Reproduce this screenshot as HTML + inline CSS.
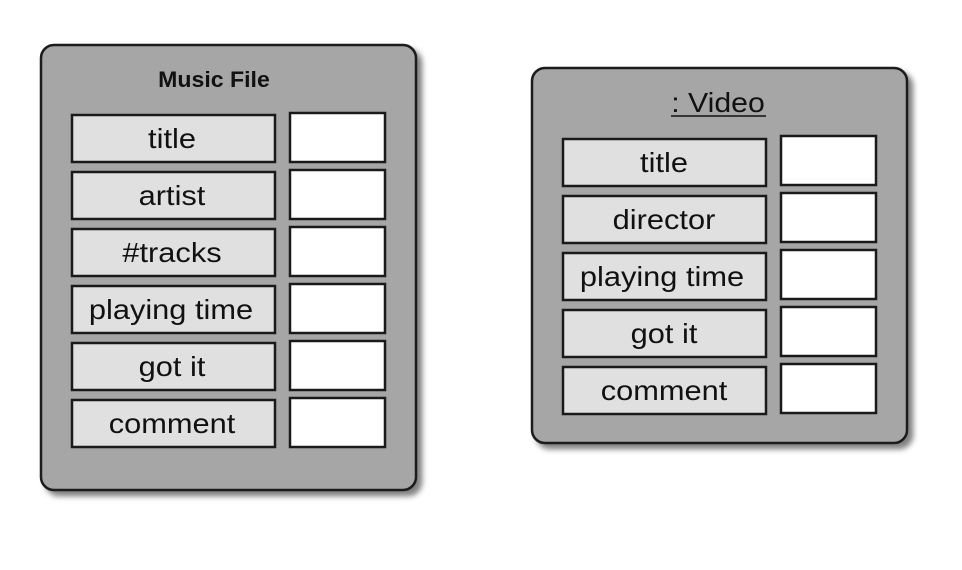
<!DOCTYPE html>
<html><head><meta charset="utf-8"><style>
html,body{margin:0;padding:0;background:#fff;}
svg{display:block;}
text{font-family:"Liberation Sans",Arial,sans-serif;fill:#111;}
</style></head><body>
<svg width="962" height="570" viewBox="0 0 962 570" xmlns="http://www.w3.org/2000/svg">
<defs>
<filter id="sh" x="-10%" y="-10%" width="130%" height="130%">
<feGaussianBlur in="SourceAlpha" stdDeviation="3"/>
<feOffset dx="5" dy="5" result="b"/>
<feComponentTransfer><feFuncA type="linear" slope="0.5"/></feComponentTransfer>
<feMerge><feMergeNode/><feMergeNode in="SourceGraphic"/></feMerge>
</filter>
</defs>
<g stroke="#1a1a1a" stroke-width="2.5">
<rect x="41" y="45" width="375" height="445" rx="13" fill="#a6a6a6" filter="url(#sh)"/>
<rect x="532" y="68" width="375" height="375" rx="13" fill="#a6a6a6" filter="url(#sh)"/>
</g>
<g stroke="#1a1a1a" stroke-width="2.5">
<rect x="72" y="115" width="203" height="47" fill="#e0e0e0"/><rect x="290" y="113" width="95" height="49" fill="#fff"/>
<rect x="72" y="172" width="203" height="47" fill="#e0e0e0"/><rect x="290" y="170" width="95" height="49" fill="#fff"/>
<rect x="72" y="229" width="203" height="47" fill="#e0e0e0"/><rect x="290" y="227" width="95" height="49" fill="#fff"/>
<rect x="72" y="286" width="203" height="47" fill="#e0e0e0"/><rect x="290" y="284" width="95" height="49" fill="#fff"/>
<rect x="72" y="343" width="203" height="47" fill="#e0e0e0"/><rect x="290" y="341" width="95" height="49" fill="#fff"/>
<rect x="72" y="400" width="203" height="47" fill="#e0e0e0"/><rect x="290" y="398" width="95" height="49" fill="#fff"/>

<rect x="563" y="139" width="203" height="47" fill="#e0e0e0"/><rect x="781" y="136" width="95" height="49" fill="#fff"/>
<rect x="563" y="196" width="203" height="47" fill="#e0e0e0"/><rect x="781" y="193" width="95" height="49" fill="#fff"/>
<rect x="563" y="253" width="203" height="47" fill="#e0e0e0"/><rect x="781" y="250" width="95" height="49" fill="#fff"/>
<rect x="563" y="310" width="203" height="47" fill="#e0e0e0"/><rect x="781" y="307" width="95" height="49" fill="#fff"/>
<rect x="563" y="367" width="203" height="47" fill="#e0e0e0"/><rect x="781" y="364" width="95" height="49" fill="#fff"/>
</g>
<g text-anchor="middle" font-size="28">
<text transform="translate(214,87) scale(1.05,1)" font-weight="bold" font-size="22">Music File</text>
<text transform="translate(172,148) scale(1.1,1)">title</text>
<text transform="translate(172,205) scale(1.1,1)">artist</text>
<text transform="translate(172,262) scale(1.1,1)">#tracks</text>
<text transform="translate(171,319) scale(1.1,1)">playing time</text>
<text transform="translate(172,376) scale(1.1,1)">got it</text>
<text transform="translate(172,433) scale(1.1,1)">comment</text>

<text transform="translate(718,112) scale(1.08,1)" font-size="28">: Video</text>
<text transform="translate(664,172) scale(1.1,1)">title</text>
<text transform="translate(664,229) scale(1.1,1)">director</text>
<text transform="translate(662,286) scale(1.1,1)">playing time</text>
<text transform="translate(664,343) scale(1.1,1)">got it</text>
<text transform="translate(664,400) scale(1.1,1)">comment</text>
</g>
<line x1="671" y1="116" x2="766" y2="116" stroke="#111" stroke-width="1.5"/>
</svg>
</body></html>
